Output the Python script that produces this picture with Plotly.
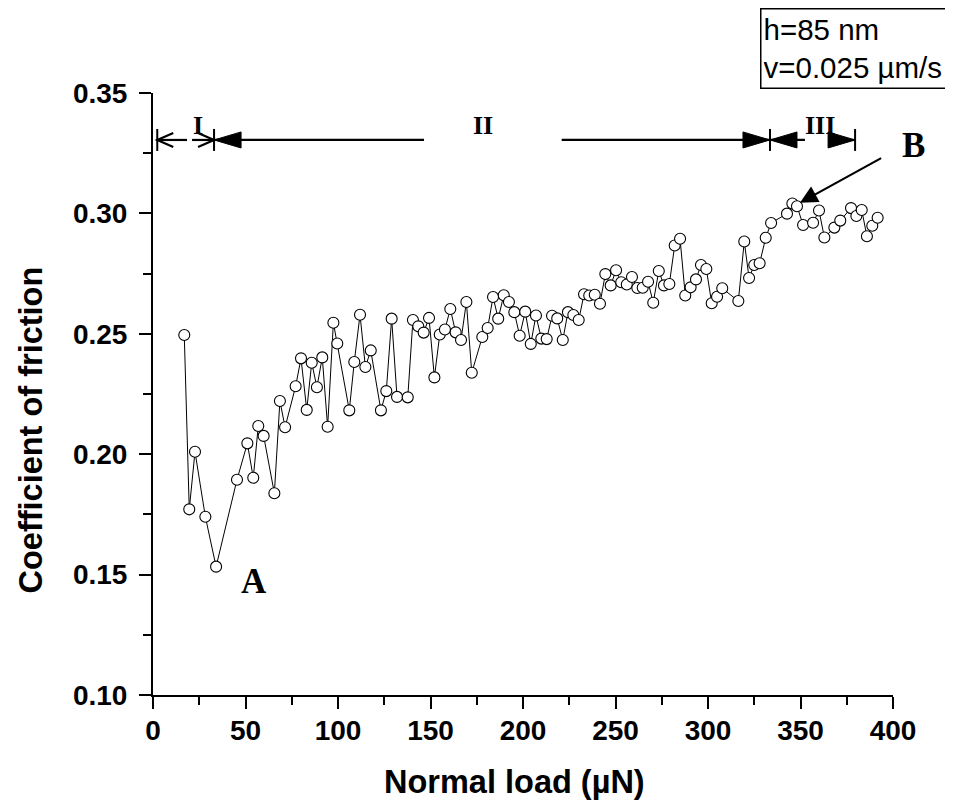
import plotly.graph_objects as go

# ---------------- data ----------------
normal_load = [16.9, 19.6, 22.7, 28.3, 34.1, 45.4, 51.0, 54.2, 56.9, 59.8,
               65.6, 68.6, 71.4, 77.1, 80.0, 83.1, 85.8, 88.6, 91.5, 94.4,
               97.5, 99.6, 106.1, 108.8, 111.9, 114.8, 117.7, 123.2, 126.1, 129.0,
               131.9, 137.7, 140.5, 143.4, 146.3, 149.2, 152.1, 155.0, 157.8, 160.7,
               163.6, 166.5, 169.4, 172.3, 178.0, 180.9, 183.8, 186.6, 189.6, 192.4,
               195.3, 198.2, 201.2, 204.2, 207.0, 209.9, 212.8, 215.7, 218.5, 221.5,
               224.3, 227.2, 230.1, 233.0, 235.8, 238.8, 241.6, 244.5, 247.4, 250.3,
               253.1, 256.1, 258.9, 261.8, 264.7, 267.6, 270.4, 273.4, 276.2, 279.1,
               282.0, 284.9, 287.7, 290.6, 293.5, 296.2, 299.1, 302.0, 304.9, 307.7,
               316.4, 319.6, 322.2, 325.0, 327.9, 331.2, 334.1, 342.7, 345.6, 348.1,
               351.4, 356.8, 360.0, 362.9, 368.3, 371.5, 377.3, 380.2, 383.1, 385.9,
               388.8, 391.7]
cof = [0.2495, 0.1771, 0.2010, 0.1740, 0.1533, 0.1894, 0.2045, 0.1902, 0.2117, 0.2076,
       0.1838, 0.2221, 0.2112, 0.2282, 0.2398, 0.2184, 0.2380, 0.2278, 0.2402, 0.2114,
       0.2546, 0.2460, 0.2182, 0.2383, 0.2579, 0.2362, 0.2431, 0.2182, 0.2262, 0.2563,
       0.2238, 0.2236, 0.2557, 0.2531, 0.2505, 0.2566, 0.2319, 0.2497, 0.2518, 0.2603,
       0.2506, 0.2474, 0.2632, 0.2338, 0.2487, 0.2524, 0.2653, 0.2563, 0.2660, 0.2632,
       0.2590, 0.2492, 0.2592, 0.2458, 0.2576, 0.2480, 0.2478, 0.2575, 0.2564, 0.2474,
       0.2590, 0.2578, 0.2557, 0.2664, 0.2659, 0.2662, 0.2625, 0.2748, 0.2701, 0.2764,
       0.2714, 0.2705, 0.2736, 0.2690, 0.2691, 0.2716, 0.2629, 0.2761, 0.2701, 0.2707,
       0.2867, 0.2895, 0.2659, 0.2693, 0.2726, 0.2786, 0.2769, 0.2627, 0.2654, 0.2689,
       0.2636, 0.2883, 0.2732, 0.2786, 0.2793, 0.2899, 0.2960, 0.2999, 0.3041, 0.3030,
       0.2952, 0.2961, 0.3012, 0.2900, 0.2941, 0.2970, 0.3022, 0.2989, 0.3014, 0.2905,
       0.2949, 0.2982]

x_ticks = [0, 50, 100, 150, 200, 250, 300, 350, 400]
y_ticks = [0.10, 0.15, 0.20, 0.25, 0.30, 0.35]

region_bounds = [2.3, 33.0, 333.5, 379.5]           # boundaries of regions I, II, III
region_labels = ["I", "II", "III"]
region_label_x = [24.3, 178.4, 360.5]
region_gap = [(18.4, 21.1), (146.5, 220.9), (352.4, 366.0)]  # shaft gaps around labels
region_y = 0.3305

# ---------------- layout geometry ----------------
OFF = 8                      # page body margin
W, H = 953 - OFF, 807 - OFF
PL, PR, PT, PB = 153, 893, 93, 695   # plot area in page pixels
ML, MR, MT, MB = PL - OFF, 953 - PR, PT - OFF, 807 - PB
XR = [0, 400]
YR = [0.10, 0.35]
pw, ph = PR - PL, PB - PT
px_x = (XR[1] - XR[0]) / pw      # data units per pixel (x)
px_y = (YR[1] - YR[0]) / ph      # data units per pixel (y)


def paper_x(px):
    return (px - PL) / pw


def paper_y(py):
    return (PB - py) / ph


FONT = "Liberation Sans, Arial, sans-serif"
SERIF = "Liberation Serif, Times New Roman, serif"

fig = go.Figure()
fig.add_trace(go.Scatter(
    x=normal_load, y=cof, mode="lines+markers",
    line=dict(color="black", width=1),
    marker=dict(symbol="circle", size=11, color="white",
                line=dict(color="black", width=1.1)),
    showlegend=False, cliponaxis=False))

shapes = []
LW = 2.2


def seg(x0, y0, x1, y1, w=LW):
    shapes.append(dict(type="line", xref="x", yref="y", x0=x0, y0=y0, x1=x1, y1=y1,
                       line=dict(color="black", width=w)))


def filled_head(tip, direction, length=27, half=8):
    bx = tip - direction * length * px_x
    path = (f"M {tip},{region_y} L {bx},{region_y + half * px_y} "
            f"L {bx},{region_y - half * px_y} Z")
    shapes.append(dict(type="path", xref="x", yref="y", path=path,
                       fillcolor="black", line=dict(color="black", width=1)))


def open_head(tip, direction, length=16, half=7):
    bx = tip - direction * length * px_x
    path = (f"M {bx},{region_y + half * px_y} L {tip},{region_y} "
            f"L {bx},{region_y - half * px_y}")
    shapes.append(dict(type="path", xref="x", yref="y", path=path,
                       line=dict(color="black", width=LW)))


for b in region_bounds:
    seg(b, region_y - 11 * px_y, b, region_y + 11 * px_y, w=2)

seg(region_bounds[0], region_y, region_gap[0][0], region_y)
open_head(region_bounds[0], -1)
seg(region_gap[0][1], region_y, region_bounds[1], region_y)
open_head(region_bounds[1], +1)
seg(region_bounds[1], region_y, region_gap[1][0], region_y)
filled_head(region_bounds[1], -1)
seg(region_gap[1][1], region_y, region_bounds[2], region_y)
filled_head(region_bounds[2], +1)
seg(region_bounds[2], region_y, region_gap[2][0], region_y)
filled_head(region_bounds[2], -1)
seg(region_gap[2][1], region_y, region_bounds[3], region_y)
filled_head(region_bounds[3], +1)

annotations = []
for lab, lx in zip(region_labels, region_label_x):
    annotations.append(dict(x=lx, y=region_y + 14 * px_y, xref="x", yref="y",
                            xanchor="center", yanchor="middle",
                            text=f"<b>{lab}</b>", showarrow=False,
                            font=dict(family=SERIF, size=26, color="black")))

annotations.append(dict(x=54.6, y=0.1471, xref="x", yref="y", text="<b>A</b>",
                        xanchor="center", yanchor="middle",
                        showarrow=False, font=dict(family=SERIF, size=35, color="black")))
annotations.append(dict(x=paper_x(913), y=paper_y(145), xref="paper", yref="paper",
                        xanchor="center", yanchor="middle",
                        text="<b>B</b>", showarrow=False,
                        font=dict(family=SERIF, size=35, color="black")))
annotations.append(dict(x=349.7, y=0.3044, xref="x", yref="y",
                        ax=394.4, ay=0.3233, axref="x", ayref="y",
                        text="", showarrow=True, arrowhead=2, arrowsize=1.6,
                        arrowwidth=2.2, arrowcolor="black", standoff=0))

annotations.append(dict(x=paper_x(760), y=paper_y(OFF + 0.2), xref="paper", yref="paper",
                        xanchor="left", yanchor="top", align="left",
                        text="h=85 nm<br>v=0.025 \u00b5m/s", showarrow=False,
                        width=184, height=74, borderpad=2,
                        bordercolor="black", borderwidth=1.5, bgcolor="white",
                        font=dict(family=FONT, size=29.5, color="black")))

annotations.append(dict(x=paper_x(514), y=paper_y(782), xref="paper", yref="paper",
                        xanchor="center", yanchor="middle",
                        text="Normal load (\u00b5N)", showarrow=False,
                        font=dict(family=FONT, size=32.5, color="black", weight="bold")))
annotations.append(dict(x=paper_x(30), y=paper_y(430.5), xref="paper", yref="paper",
                        xanchor="center", yanchor="middle",
                        text="Coefficient of friction", showarrow=False, textangle=-90,
                        font=dict(family=FONT, size=32.5, color="black", weight="bold")))

axis_common = dict(showline=True, linecolor="black", linewidth=2, showgrid=False,
                   zeroline=False, ticks="outside", ticklen=12, tickwidth=2,
                   tickcolor="black",
                   tickfont=dict(family=FONT, size=28, color="black", weight="bold"))

fig.update_layout(
    width=W, height=H,
    margin=dict(l=ML, r=MR, t=MT, b=MB),
    paper_bgcolor="white", plot_bgcolor="white",
    shapes=shapes, annotations=annotations,
    xaxis=dict(range=XR, tickmode="array", tickvals=x_ticks,
               ticktext=[str(v) for v in x_ticks], ticklabelstandoff=-3,
               minor=dict(dtick=25, tick0=0, ticks="outside", ticklen=8, tickwidth=2,
                          tickcolor="black"),
               **axis_common),
    yaxis=dict(range=YR, tickmode="array", tickvals=y_ticks,
               ticktext=[f"{v:.2f}" for v in y_ticks], ticklabelstandoff=6,
               minor=dict(dtick=0.025, tick0=0.10, ticks="outside", ticklen=8, tickwidth=2,
                          tickcolor="black"),
               **axis_common),
)

fig.write_html("out.html")
